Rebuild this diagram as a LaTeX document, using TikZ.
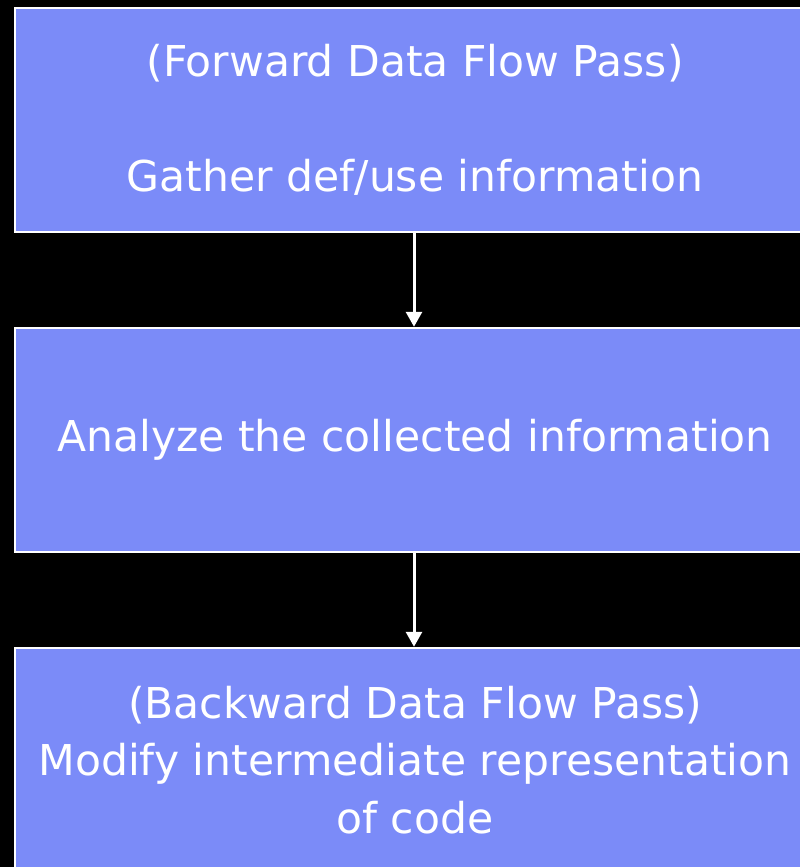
\documentclass[tikz,border=0pt]{standalone}
\usepackage{fontspec}
\setmainfont{DejaVu Sans}
\usetikzlibrary{arrows.meta}
\definecolor{boxblue}{RGB}{123,139,248}
\tikzset{
  flowbox/.style={draw=white, line width=2.5pt, fill=boxblue, minimum width=800pt, minimum height=224pt,
    text=white, align=center, inner sep=0pt,
    font=\fontsize{42.5}{57.5}\selectfont},
  flowarrow/.style={draw=white, line width=3pt, -{Triangle[width=16pt,length=15pt]}}
}
\begin{document}
\begin{tikzpicture}[x=1pt,y=-1pt]
\useasboundingbox (0,0) rectangle (800,867);
\fill[black] (0,0) rectangle (800,867);
\node[flowbox] (a) at (415,120) {\rule{0pt}{6pt}(Forward Data Flow Pass)\\[57.5pt]Gather def/use information};
\node[flowbox] (b) at (415,440) {Analyze the collected information};
\node[flowbox] (c) at (415,760) {(Backward Data Flow Pass)\\Modify intermediate representation\\of code};
\draw[flowarrow] (a.south -| 414,0) -- (b.north -| 414,0);
\draw[flowarrow] (b.south -| 414,0) -- (c.north -| 414,0);
\end{tikzpicture}
\end{document}
